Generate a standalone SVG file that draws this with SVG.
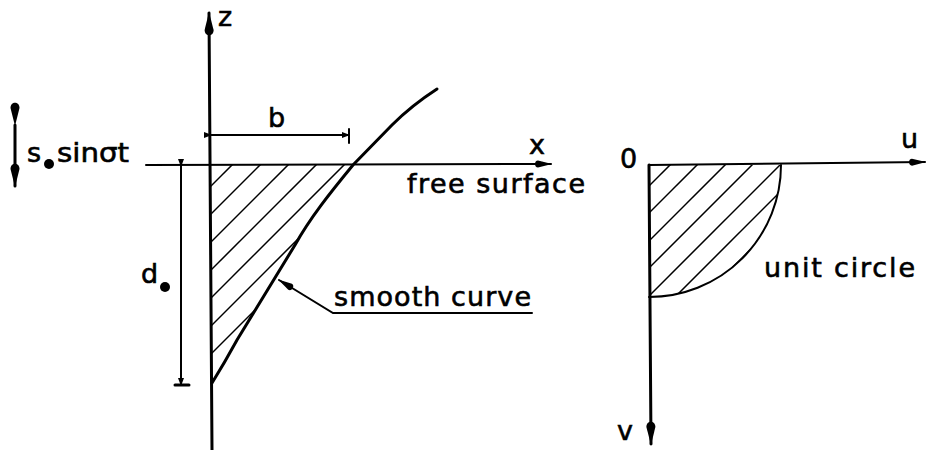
<svg xmlns="http://www.w3.org/2000/svg" width="926" height="450" viewBox="0 0 926 450">
<style>
.ln{stroke:#000;fill:none;stroke-linecap:round}
.ax{stroke-width:3}
.th{stroke-width:2}
.ht{stroke-width:1.5}
.t{font-family:"DejaVu Sans","Liberation Sans",sans-serif;font-size:27px;fill:#000;stroke:#000;stroke-width:0.6}
</style>
<defs>
<marker id="ah" viewBox="0 0 26 10" refX="25" refY="5" markerWidth="26" markerHeight="10" markerUnits="userSpaceOnUse" orient="auto">
<path d="M26,5 L8,0.5 C1,0.5 1,9.5 8,9.5 Z" fill="#000"/>
</marker>
<marker id="ahs" viewBox="0 0 18 8" refX="17" refY="4" markerWidth="18" markerHeight="8" markerUnits="userSpaceOnUse" orient="auto">
<path d="M18,4 L4,0.5 C0,0.5 0,7.5 4,7.5 Z" fill="#000"/>
</marker>
<marker id="tk" viewBox="0 0 8 8" refX="7" refY="4" markerWidth="8" markerHeight="8" markerUnits="userSpaceOnUse" orient="auto">
<path d="M0,1 L8,4 L0,7 Z" fill="#000"/>
</marker>
<clipPath id="cl">
<path d="M211,165 L353,165 C330,193 310,218 295,245 L237,340 Q225,362 212,383 Z"/>
</clipPath>
<clipPath id="cr">
<path d="M649,165 L781,165 A132,132 0 0 1 649,297 Z"/>
</clipPath>
</defs>

<g id="connectors">
<line class="ln ax" x1="212" y1="450" x2="209" y2="13" marker-end="url(#ah)"/>
<line class="ln th" x1="146" y1="165" x2="551" y2="164" marker-end="url(#ahs)"/>
<line class="ln th" x1="211" y1="135" x2="349" y2="135" marker-start="url(#tk)" marker-end="url(#tk)"/>
<line class="ln th" x1="349" y1="129" x2="349" y2="143"/>
<line class="ln th" x1="181" y1="166" x2="181" y2="385" marker-start="url(#tk)" marker-end="url(#tk)"/>
<line class="ln ax" x1="175" y1="385" x2="189" y2="385"/>
<line class="ln ax" x1="15" y1="125" x2="15" y2="186" marker-start="url(#ah)" marker-end="url(#ah)"/>
<path class="ln th" d="M532,313 L333,313 L279,280" marker-end="url(#ahs)"/>
<line class="ln th" x1="649" y1="165" x2="925" y2="162" marker-end="url(#ahs)"/>
<line class="ln ax" x1="649" y1="165" x2="651" y2="444" marker-end="url(#ah)"/>
</g>

<g id="left-body">
<path class="ln ax" d="M437,89 C420,100 405,112 392,125 L353,165 C330,193 310,218 295,245 L237,340 Q225,362 212,383"/>
<g clip-path="url(#cl)">
<line class="ln ht" x1="200" y1="197" x2="240" y2="157"/>
<line class="ln ht" x1="200" y1="225" x2="268" y2="157"/>
<line class="ln ht" x1="200" y1="253" x2="296" y2="157"/>
<line class="ln ht" x1="200" y1="281" x2="324" y2="157"/>
<line class="ln ht" x1="200" y1="309" x2="352" y2="157"/>
<line class="ln ht" x1="200" y1="337" x2="380" y2="157"/>
<line class="ln ht" x1="200" y1="365" x2="408" y2="157"/>
<line class="ln ht" x1="200" y1="393" x2="436" y2="157"/>
</g>
</g>

<g id="unit-circle">
<path class="ln th" d="M781,165 A132,132 0 0 1 649,297"/>
<g clip-path="url(#cr)">
<line class="ln ht" x1="640" y1="195" x2="680" y2="155"/>
<line class="ln ht" x1="640" y1="222" x2="707" y2="155"/>
<line class="ln ht" x1="640" y1="250" x2="735" y2="155"/>
<line class="ln ht" x1="640" y1="277" x2="762" y2="155"/>
<line class="ln ht" x1="640" y1="305" x2="790" y2="155"/>
<line class="ln ht" x1="640" y1="332" x2="817" y2="155"/>
<line class="ln ht" x1="640" y1="360" x2="845" y2="155"/>
</g>
</g>

<g id="labels">
<text class="t" x="218" y="26">z</text>
<text class="t" x="268" y="127">b</text>
<text class="t" x="529" y="154">x</text>
<text class="t" x="407" y="193" textLength="178" lengthAdjust="spacing">free surface</text>
<text class="t" x="334" y="306" textLength="197" lengthAdjust="spacing">smooth curve</text>
<text class="t" x="141" y="283">d</text>
<circle cx="165" cy="287" r="5"/>
<text class="t" x="27" y="162">s</text>
<circle cx="49" cy="164" r="5"/>
<text class="t" x="57" y="162" textLength="72" lengthAdjust="spacingAndGlyphs">sinσt</text>
<text class="t" x="620" y="168">0</text>
<text class="t" x="901" y="148">u</text>
<text class="t" x="617" y="440">v</text>
<text class="t" x="764" y="277" textLength="151" lengthAdjust="spacing">unit circle</text>
</g>
</svg>
